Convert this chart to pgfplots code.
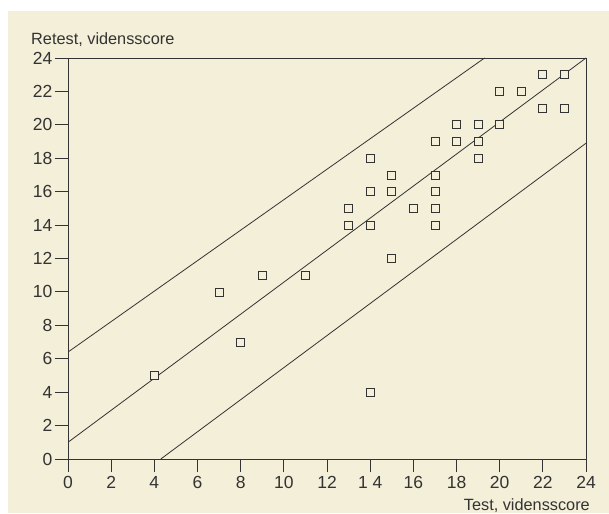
\documentclass[border=0pt]{standalone}
\usepackage{pgfplots}
\pgfplotsset{compat=1.18}
\usepackage{fontspec}
\setmainfont{Liberation Sans}
\definecolor{cream}{HTML}{F3EFD8}
\definecolor{ink}{HTML}{333333}
\begin{document}
\begin{tikzpicture}[x=1pt,y=1pt]
\useasboundingbox (0,0) rectangle (609,513);
\fill[white] (0,0) rectangle (609,513);
\fill[cream] (8,0) rectangle (609,502);
\begin{axis}[
  at={(68pt,54pt)}, anchor=south west,
  scale only axis, width=518pt, height=401pt,
  xmin=0, xmax=24, ymin=0, ymax=24,
  xtick={0,2,...,24},
  xticklabels={0,2,4,6,8,10,12,1 4,16,18,20,22,24},
  ytick={0,2,...,24},
  xtick pos=bottom, ytick pos=left,
  tick align=outside, major tick length=13pt,
  axis line style={ink, line width=0.9pt},
  every tick/.style={ink, line width=0.9pt},
  tick label style={font=\fontsize{17.5}{17.5}\selectfont, text=ink},
  yticklabel style={inner sep=2.5pt},
  xticklabel style={inner sep=4.5pt},
  /pgf/number format/assume math mode=true,
  clip=true,
]
\addplot[ink, line width=0.8pt] coordinates {(0,1) (24,24)};
\addplot[ink, line width=0.8pt] coordinates {(0,6.4) (19.3,24)};
\addplot[ink, line width=0.8pt] coordinates {(4.3,0) (24,18.9)};
\addplot[only marks, mark=square*, mark size=4pt,
  mark options={draw=ink, fill=cream, line width=0.8pt}] coordinates {
(4,5) (7,10) (8,7) (9,11) (11,11) (13,15) (13,14) (14,18) (14,16) (14,14) (14,4)
(15,17) (15,16) (15,12) (16,15) (17,19) (17,17) (17,16) (17,15) (17,14)
(18,20) (18,19) (19,20) (19,19) (19,18) (20,22) (20,20) (21,22)
(22,23) (22,21) (23,23) (23,21)
};
\end{axis}
\node[anchor=base west, text=ink, font=\fontsize{16.3}{16.3}\selectfont, inner sep=0pt] at (31,468) {Retest, vidensscore};
\node[anchor=base east, text=ink, font=\fontsize{16.3}{16.3}\selectfont, inner sep=0pt] at (590,2.3) {Test, vidensscore};
\end{tikzpicture}
\end{document}
